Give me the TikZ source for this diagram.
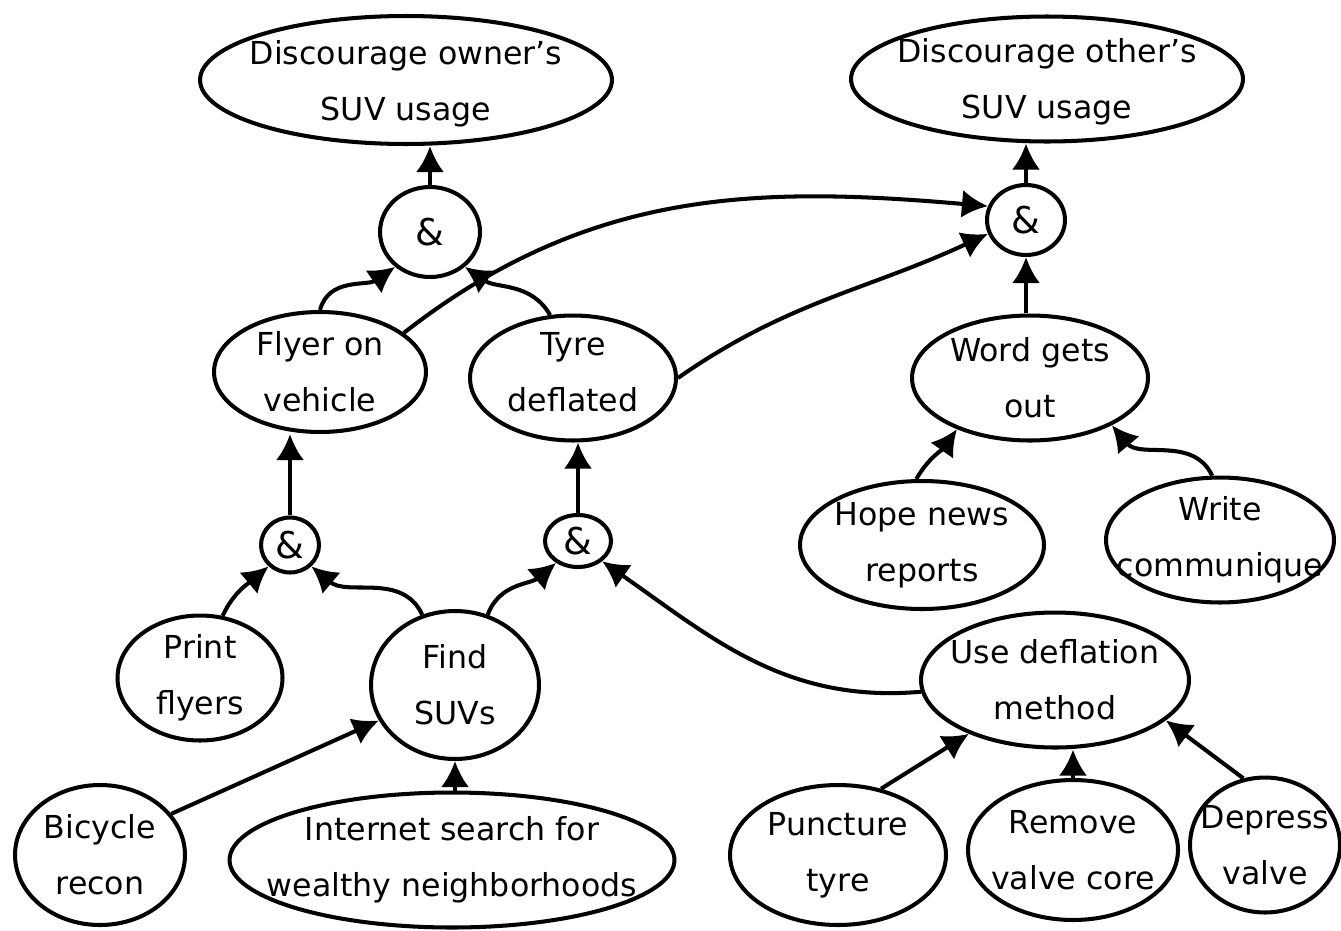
\documentclass[tikz,border=0pt]{standalone}
\usepackage{fontspec}
\setmainfont{DejaVu Sans}
\usetikzlibrary{shapes.geometric,arrows.meta}
\begin{document}
\begin{tikzpicture}[x=0.02cm,y=-0.02cm,
  ell/.style={ellipse,draw,line width=2.3pt,inner sep=0pt,fill=white},
  txt/.style={align=center,inner sep=0pt,font=\fontsize{18}{32}\selectfont},
  amp/.style={font=\fontsize{21}{24}\selectfont},
  arr/.style={line width=2.3pt,-{Latex[length=0.52cm,width=0.56cm]}}]
\fill[white] (0,0) rectangle (1341,930);
\useasboundingbox (0,0) rectangle (1341,930);
% nodes
\node[ell,minimum width=8.24cm,minimum height=2.56cm] (n1) at (406,80) {};
\node[txt] (t1) at (406,84) {Discourage owner's\\SUV usage};
\node[ell,minimum width=7.84cm,minimum height=2.5cm] (n2) at (1047,79) {};
\node[txt] (t2) at (1047,82) {Discourage other's\\SUV usage};
\node[ell,minimum width=2.0cm,minimum height=1.8cm] (a1) at (430,232) {};
\node[amp] (ta1) at (a1) {\&};
\node[ell,minimum width=1.56cm,minimum height=1.4cm] (a2) at (1026,220) {};
\node[amp] (ta2) at (a2) {\&};
\node[ell,minimum width=4.24cm,minimum height=2.4cm] (n5) at (320,372) {};
\node[txt] (t5) at (n5) {Flyer on\\vehicle};
\node[ell,minimum width=4.12cm,minimum height=2.5cm] (n6) at (573,378) {};
\node[txt] (t6) at (573,372) {Tyre\\deflated};
\node[ell,minimum width=4.72cm,minimum height=2.5cm] (n7) at (1030,378) {};
\node[txt] (t7) at (n7) {Word gets\\out};
\node[ell,minimum width=1.16cm,minimum height=1.1cm] (a3) at (290,545) {};
\node[amp] (ta3) at (a3) {\&};
\node[ell,minimum width=1.32cm,minimum height=1.04cm] (a4) at (578,541) {};
\node[amp] (ta4) at (a4) {\&};
\node[ell,minimum width=4.88cm,minimum height=2.56cm] (n10) at (922,545) {};
\node[txt] (t10) at (n10) {Hope news\\reports};
\node[ell,minimum width=4.56cm,minimum height=2.5cm] (n11) at (1220,540) {};
\node[txt] (t11) at (n11) {Write\\communique};
\node[ell,minimum width=3.3cm,minimum height=2.5cm] (n12) at (200,678) {};
\node[txt] (t12) at (n12) {Print\\flyers};
\node[ell,minimum width=3.36cm,minimum height=2.96cm] (n13) at (455,685) {};
\node[txt] (t13) at (n13) {Find\\SUVs};
\node[ell,minimum width=5.36cm,minimum height=2.7cm] (n14) at (1055,680) {};
\node[txt] (t14) at (n14) {Use deflation\\method};
\node[ell,minimum width=3.4cm,minimum height=2.8cm] (n15) at (100,855) {};
\node[txt] (t15) at (n15) {Bicycle\\recon};
\node[ell,minimum width=8.9cm,minimum height=2.7cm] (n16) at (452,860) {};
\node[txt] (t16) at (n16) {Internet search for\\wealthy neighborhoods};
\node[ell,minimum width=4.32cm,minimum height=2.8cm] (n17) at (838,855) {};
\node[txt] (t17) at (n17) {Puncture\\tyre};
\node[ell,minimum width=4.2cm,minimum height=2.8cm] (n18) at (1073,850) {};
\node[txt] (t18) at (n18) {Remove\\valve core};
\node[ell,minimum width=3.0cm,minimum height=2.7cm] (n19) at (1265,845) {};
\node[txt] (t19) at (n19) {Depress\\valve};
% connectors
\draw[arr] (a1.north) -- (a1.north |- n1.south);
\draw[arr] (n5.north) to[out=75,in=215] (a1.225);
\draw[arr] (n6.110) to[out=120,in=-35] (a1.-45);
\draw[arr] (n5.25) to[out=38,in=175] (a2.160);
\draw[arr] (n6.east) to[out=35,in=205] (a2.200);
\draw[arr] (a2.north) -- (a2.north |- n2.south);
\draw[arr] (a2.south |- n7.north) -- (a2.south);
\draw[arr] (a3.north) -- (a3.north |- n5.south);
\draw[arr] (a4.north) -- (a4.north |- n6.south);
\draw[arr] (n12.70) to[out=65,in=220] (a3.225);
\draw[arr] (n13.115) to[out=115,in=-40] (a3.-45);
\draw[arr] (n13.65) to[out=70,in=220] (a4.225);
\draw[arr] (n14.185) to[out=185,in=-35] (a4.-40);
\draw[arr] (n10.95) to[out=60,in=235] (n7.215);
\draw[arr] (n11.97) to[out=115,in=-50] (n7.-30);
\draw[arr] (n15.30) -- (n13.205);
\draw[arr] (n13.south |- n16.north) -- (n13.south);
\draw[arr] (n17.57) -- (n14.212);
\draw[arr] (n18.north) -- (n18.north |- n14.south);
\draw[arr] (n19.108) -- (n14.-20);
\end{tikzpicture}
\end{document}
